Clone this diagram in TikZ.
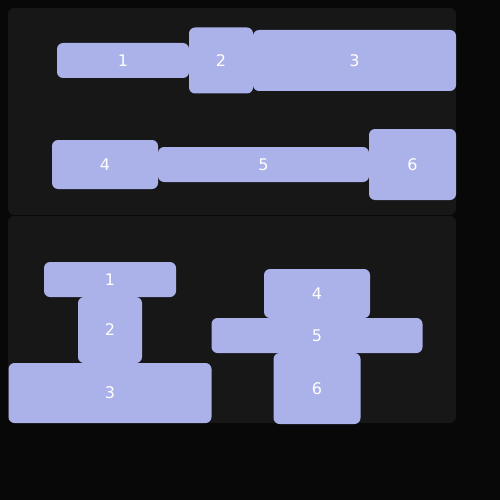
\documentclass[tikz,border=0pt]{standalone}
\usepackage{fontspec}
\setmainfont{DejaVu Sans}
\usetikzlibrary{positioning}
\definecolor{bgblack}{HTML}{080808}
\definecolor{panelgray}{HTML}{171717}
\definecolor{blockblue}{HTML}{AAB2E9}

\begin{document}
\begin{tikzpicture}[x=1pt, y=-1pt,
  blk/.style={rectangle, rounded corners=6pt, fill=blockblue, text=white, inner sep=0pt, outer sep=0pt, font=\fontsize{16}{18}\selectfont},
  panel/.style={fill=panelgray, rounded corners=6pt}]
  \fill[bgblack] (0,0) rectangle (500,500);
  \useasboundingbox (0,0) rectangle (500,500);
  \fill[panel] (8,8) rectangle (456,215);
  \fill[panel] (8,216) rectangle (456,423);

  % top panel, rows
  \node[blk, minimum width=132pt, minimum height=35pt] (r1) at (123,60.5) {1};
  \node[blk, minimum width=64pt, minimum height=66pt, right=0pt of r1] (r2) {2};
  \node[blk, minimum width=203pt, minimum height=61pt, right=0pt of r2] (r3) {3};

  \node[blk, minimum width=106pt, minimum height=49pt] (r4) at (105,164.5) {4};
  \node[blk, minimum width=211pt, minimum height=35pt, right=0pt of r4] (r5) {5};
  \node[blk, minimum width=87pt, minimum height=71pt, right=0pt of r5] (r6) {6};

  % bottom panel, columns
  \node[blk, minimum width=132pt, minimum height=35pt] (c1) at (110,279.5) {1};
  \node[blk, minimum width=64pt, minimum height=66pt, below=0pt of c1] (c2) {2};
  \node[blk, minimum width=203pt, minimum height=60pt, below=0pt of c2] (c3) {3};

  \node[blk, minimum width=106pt, minimum height=49pt] (c4) at (317,293.5) {4};
  \node[blk, minimum width=211pt, minimum height=35pt, below=0pt of c4] (c5) {5};
  \node[blk, minimum width=87pt, minimum height=71pt, below=0pt of c5] (c6) {6};
\end{tikzpicture}
\end{document}
